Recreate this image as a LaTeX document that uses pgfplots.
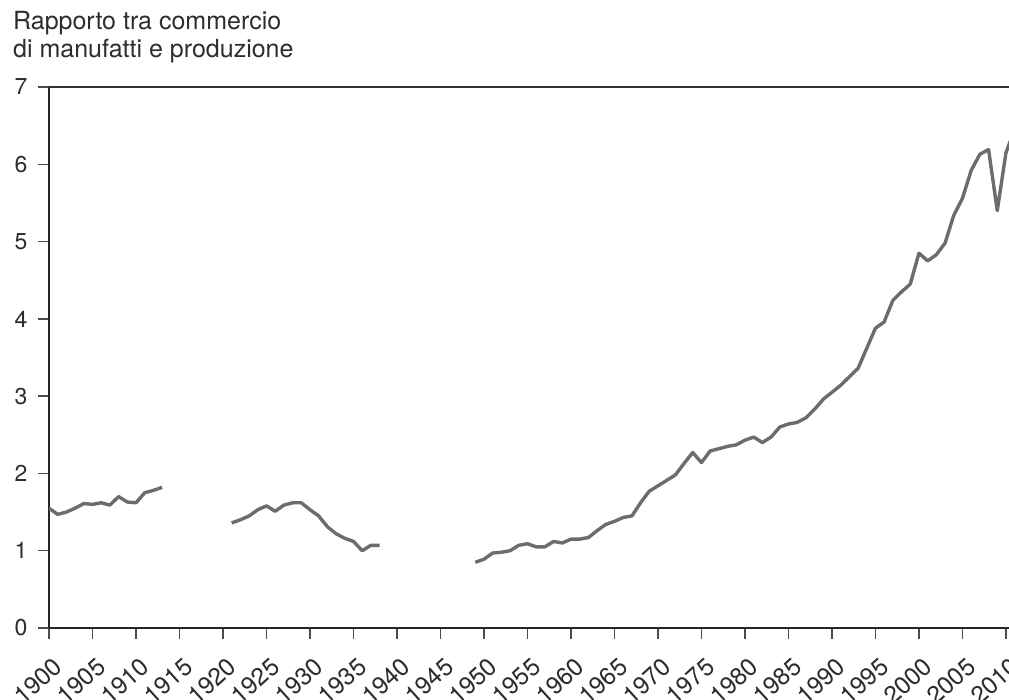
\documentclass[border=0pt]{standalone}
\usepackage{fontspec}
\setmainfont{TeX Gyre Heros}
\usepackage{pgfplots}
\usepackage{pgfplotstable}
\pgfplotsset{compat=1.18}

\definecolor{linegray}{RGB}{108,108,108}
\definecolor{txt}{RGB}{45,45,45}

% ratio of manufactures trade to production
\pgfplotstableread{
year ratio
1900 1.55
1901 1.47
1902 1.50
1903 1.55
1904 1.61
1905 1.60
1906 1.62
1907 1.59
1908 1.70
1909 1.63
1910 1.62
1911 1.75
1912 1.78
1913 1.82
1914 nan
1921 1.36
1922 1.40
1923 1.45
1924 1.53
1925 1.58
1926 1.51
1927 1.59
1928 1.62
1929 1.62
1930 1.53
1931 1.45
1932 1.31
1933 1.22
1934 1.16
1935 1.12
1936 1.00
1937 1.07
1938 1.07
1939 nan
1949 0.85
1950 0.89
1951 0.97
1952 0.98
1953 1.00
1954 1.07
1955 1.09
1956 1.05
1957 1.05
1958 1.12
1959 1.10
1960 1.15
1961 1.15
1962 1.17
1963 1.26
1964 1.34
1965 1.38
1966 1.43
1967 1.45
1968 1.62
1969 1.77
1970 1.84
1971 1.91
1972 1.98
1973 2.13
1974 2.27
1975 2.14
1976 2.29
1977 2.32
1978 2.35
1979 2.37
1980 2.43
1981 2.47
1982 2.40
1983 2.47
1984 2.60
1985 2.64
1986 2.66
1987 2.72
1988 2.83
1989 2.96
1990 3.05
1991 3.14
1992 3.25
1993 3.36
1994 3.62
1995 3.88
1996 3.96
1997 4.24
1998 4.35
1999 4.45
2000 4.85
2001 4.75
2002 4.83
2003 4.98
2004 5.34
2005 5.56
2006 5.92
2007 6.13
2008 6.19
2009 5.40
2010 6.15
2011 6.45
}\ratio

\begin{document}
\begin{tikzpicture}
\begin{axis}[
    at={(0,0)}, anchor=south west,
    scale only axis, width=960pt, height=541pt,
    xmin=1900, xmax=2010.35, ymin=0, ymax=7,
    axis x line*=bottom, axis y line*=left,
    axis line style={line width=2.6pt, color=black!85},
    xtick={1900,1905,...,2010}, ytick={0,1,...,7},
    tick align=outside, major tick length=11pt,
    tick style={line width=1.3pt, color=black!70},
    /pgf/number format/assume math mode=true,
    xticklabel style={rotate=42, anchor=east, text=txt, xshift=-6pt, yshift=-24pt,
        font=\fontsize{24.5}{24.5}\selectfont, /pgf/number format/1000 sep={}},
    yticklabel style={text=txt, xshift=-7pt, font=\fontsize{23}{23}\selectfont},
    unbounded coords=jump,
]
\addplot[linegray, line width=3.4pt, line join=round] table[x=year, y=ratio] {\ratio};
\draw[line width=1.4pt, black!80] (rel axis cs:0,1) -- (rel axis cs:1,1);
\end{axis}
\node[anchor=base west, inner sep=0pt, text=txt, font=\fontsize{25}{28}\selectfont] at (-36pt,598pt) {Rapporto tra commercio};
\node[anchor=base west, inner sep=0pt, text=txt, font=\fontsize{25}{28}\selectfont] at (-36pt,570pt) {di manufatti e produzione};
\pgfresetboundingbox
\path[use as bounding box] (-49pt,-72pt) rectangle (960pt,628pt);
\end{tikzpicture}
\end{document}
